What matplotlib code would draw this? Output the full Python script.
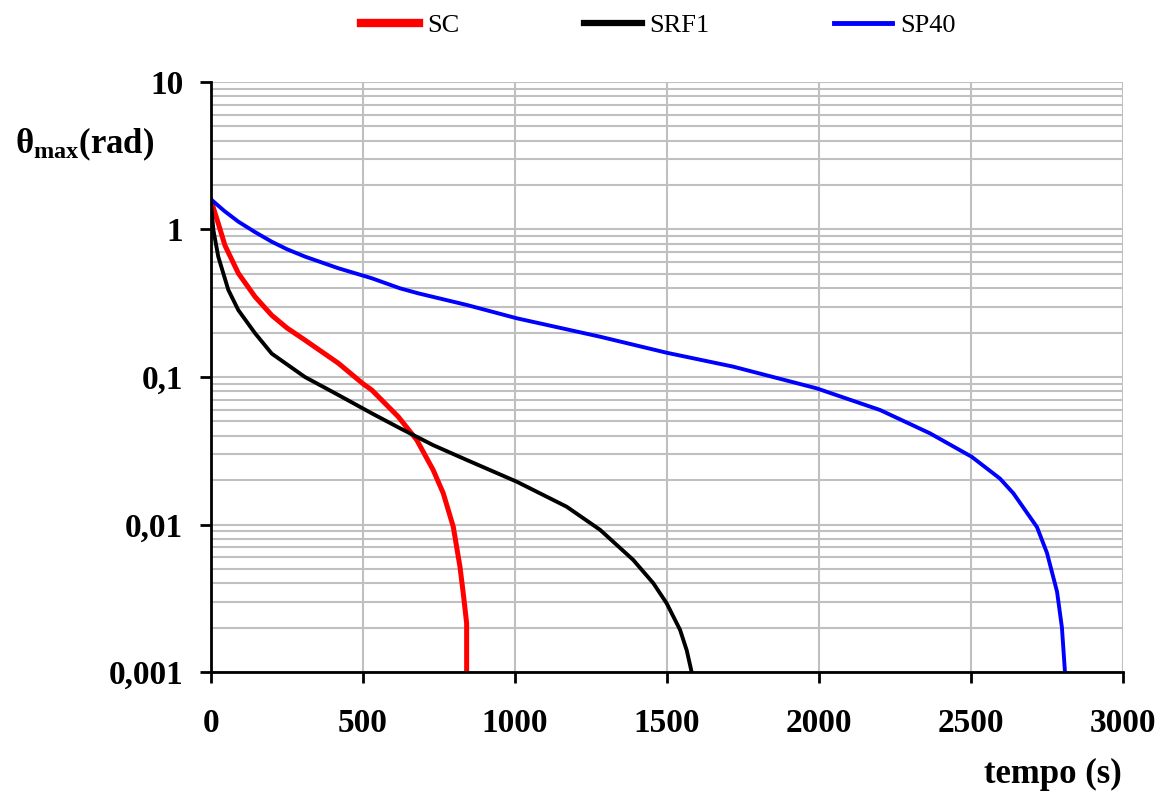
import numpy as np
import matplotlib
matplotlib.use('Agg')
import matplotlib.pyplot as plt
from matplotlib.ticker import LogLocator, FixedLocator, NullFormatter

plt.rcParams['font.family'] = ['Liberation Serif', 'DejaVu Serif']
plt.rcParams['mathtext.fontset'] = 'custom'
plt.rcParams['mathtext.rm'] = 'Liberation Serif:bold'
plt.rcParams['mathtext.it'] = 'Liberation Serif:bold'
plt.rcParams['mathtext.bf'] = 'Liberation Serif:bold'

# tempo (s) / theta max (rad)
t_sc = [0, 24, 46, 90, 145, 200, 250, 309, 419, 500, 529, 616, 677, 731,
        764, 797, 819, 830, 841, 841]
th_sc = [1.58, 1.10, 0.78, 0.505, 0.35, 0.262, 0.215, 0.178, 0.124, 0.090,
         0.0816, 0.0538, 0.0374, 0.0234, 0.0163, 0.00966, 0.00518, 0.0034,
         0.00214, 0.001]

t_srf1 = [0, 8, 24, 57, 90, 145, 200, 309, 419, 529, 622, 731, 841, 1006,
          1170, 1280, 1389, 1455, 1499, 1543, 1565, 1581]
th_srf1 = [1.5, 0.99, 0.655, 0.39, 0.284, 0.198, 0.144, 0.100, 0.0755,
           0.0567, 0.0449, 0.0345, 0.0274, 0.0195, 0.0132, 0.0092, 0.00575,
           0.0040, 0.00292, 0.00193, 0.0014, 0.001]

t_sp40 = [0, 45, 90, 145, 200, 250, 309, 419, 529, 622, 682, 841, 1006, 1280,
          1499, 1718, 1992, 2201, 2365, 2502, 2595, 2639, 2717, 2750, 2783,
          2799, 2809]
th_sp40 = [1.6, 1.33, 1.13, 0.96, 0.826, 0.735, 0.655, 0.546, 0.467, 0.399,
           0.369, 0.308, 0.25, 0.1875, 0.146, 0.1175, 0.0838, 0.0597, 0.0415,
           0.0288, 0.0205, 0.0163, 0.0096, 0.0064, 0.0035, 0.002, 0.001]

y_ticks = [0.001, 0.01, 0.1, 1, 10]
y_labels = ['0,001', '0,01', '0,1', '1', '10']
x_ticks = [0, 500, 1000, 1500, 2000, 2500, 3000]

fig = plt.figure(figsize=(11.61, 7.95), dpi=100)
ax = fig.add_axes([0.1817, 0.1547, 0.7856, 0.7422])

ax.plot(t_sc, th_sc, color='#ff0000', lw=3.6, label='SC', zorder=3)
ax.plot(t_srf1, th_srf1, color='black', lw=2.8, label='SRF1', zorder=3)
ax.plot(t_sp40, th_sp40, color='#0000ff', lw=2.8, label='SP40', zorder=3)

ax.set_yscale('log')
ax.set_ylim(0.001, 10)
ax.set_xlim(0, 3000)

ax.yaxis.set_major_locator(FixedLocator(y_ticks))
ax.set_yticklabels(y_labels)
ax.yaxis.set_minor_locator(LogLocator(base=10, subs=np.arange(2, 10)))
ax.yaxis.set_minor_formatter(NullFormatter())
ax.set_xticks(x_ticks)

ax.grid(True, which='both', axis='y', color='#c0c0c0', lw=1.5)
ax.grid(True, which='major', axis='x', color='#c0c0c0', lw=1.5)
ax.set_axisbelow(True)

for side in ['top', 'right']:
    ax.spines[side].set_visible(False)
for side in ['left', 'bottom']:
    ax.spines[side].set_linewidth(2)
    ax.spines[side].set_zorder(4)

ax.tick_params(axis='y', which='major', direction='out', length=8, width=2,
               pad=12, labelsize=24)
ax.tick_params(axis='y', which='minor', length=0)
ax.tick_params(axis='x', direction='out', length=8, width=2, pad=18,
               labelsize=24)
for lab in ax.get_xticklabels() + ax.get_yticklabels():
    lab.set_fontweight('bold')

fig.text(0.013, 0.818, r'$\theta_{\rm max}$(rad)', fontsize=25,
         fontweight='bold', va='center', ha='left')
fig.text(0.966, 0.026, 'tempo (s)', fontsize=25, fontweight='bold',
         va='center', ha='right')

leg = fig.legend(loc='center', bbox_to_anchor=(0.567, 0.968), ncol=3,
                 frameon=False, fontsize=19, handlelength=2.2,
                 handletextpad=0.3, columnspacing=4.7)
for h, w in zip(leg.get_lines(), [6, 4.5, 3.5]):
    h.set_linewidth(w)

fig.savefig('out.png', dpi=100)
